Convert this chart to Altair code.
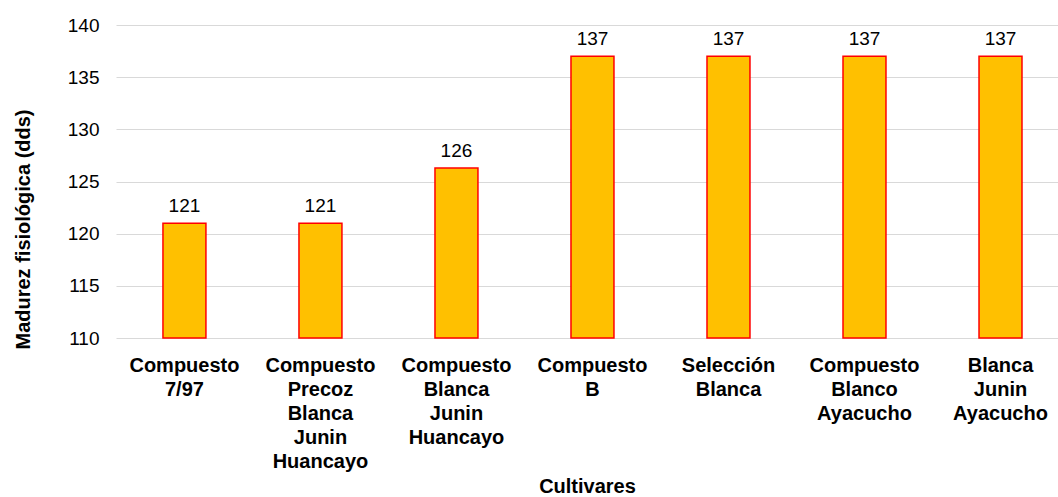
import altair as alt
import pandas as pd

cultivares = [
    "Compuesto 7/97",
    "Compuesto Precoz Blanca Junin Huancayo",
    "Compuesto Blanca Junin Huancayo",
    "Compuesto B",
    "Selección Blanca",
    "Compuesto Blanco Ayacucho",
    "Blanca Junin Ayacucho",
]
madurez = [121, 121, 126.3, 137, 137, 137, 137]
y_ticks = [110, 115, 120, 125, 130, 135, 140]

df = pd.DataFrame({"cultivar": cultivares, "dds": madurez})
df["base"] = 110

FONT = "Liberation Sans"

x_scale = alt.Scale(paddingInner=0.684, paddingOuter=0.305, align=0.566)
y_scale = alt.Scale(domain=[110, 140], zero=False, nice=False)

x_enc = alt.X(
    "cultivar:N",
    sort=cultivares,
    title="Cultivares",
    scale=x_scale,
    axis=alt.Axis(
        labelAngle=0,
        labelExpr="split(datum.label, ' ')",
        labelFont=FONT,
        labelFontSize=20,
        labelFontWeight="bold",
        labelColor="#000000",
        labelLineHeight=24,
        labelBaseline="top",
        labelPadding=17,
        labelLimit=300,
        ticks=False,
        domain=False,
        grid=False,
        titleFont=FONT,
        titleFontSize=20,
        titleFontWeight="bold",
        titleColor="#000000",
        titleY=154,
        titleBaseline="alphabetic",
    ),
)

y_enc = alt.Y(
    "dds:Q",
    scale=y_scale,
    title="Madurez fisiológica (dds)",
    axis=alt.Axis(
        values=y_ticks,
        grid=True,
        gridColor="#D9D9D9",
        gridWidth=1,
        ticks=False,
        domain=False,
        domainOpacity=0,
        labelFont=FONT,
        labelFontSize=19,
        labelColor="#000000",
        labelPadding=17,
        titleFont=FONT,
        titleFontSize=20,
        titleFontWeight="bold",
        titleColor="#000000",
        titleX=-87,
        titleY=204,
        titleAngle=270,
        titleBaseline="alphabetic",
        titleAlign="center",
    ),
)

bars = alt.Chart(df).mark_bar(
    color="#FFC000", stroke="#FF0000", strokeWidth=1.5
).encode(x=x_enc, y=y_enc, y2="base:Q")

labels = alt.Chart(df).mark_text(
    font=FONT, fontSize=19, color="#000000", baseline="alphabetic", dy=-11
).encode(
    x=x_enc,
    y=y_enc,
    text=alt.Text("dds:Q", format=".0f"),
)

chart = (
    alt.layer(bars, labels)
    .properties(
        width=942,
        height=313,
        autosize=alt.AutoSizeParams(type="none"),
        padding={"left": 116, "top": 25, "right": 0, "bottom": 159},
        view=alt.ViewBackground(stroke="transparent", strokeWidth=0, strokeOpacity=0),
    )
    .configure_view(strokeWidth=0, stroke="transparent", strokeOpacity=0)
    .configure_axis(domain=False, domainOpacity=0)
    .configure(background="#FFFFFF")
)

chart.save("out.html", embed_options={"renderer": "svg", "actions": False})
